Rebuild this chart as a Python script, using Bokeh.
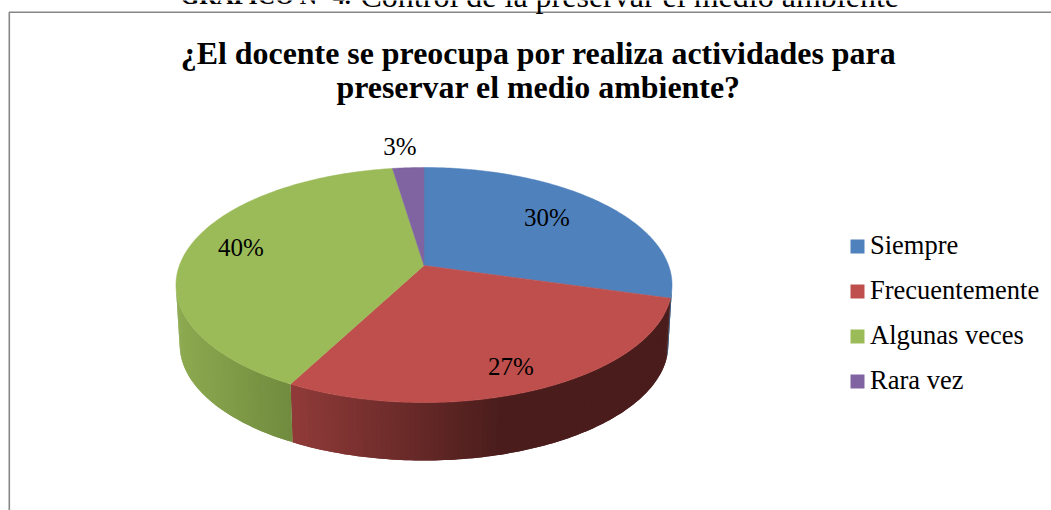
import numpy as np
from bokeh.plotting import figure
from bokeh.models import ColumnDataSource, Range1d
from bokeh.core.properties import value
from bokeh.embed import file_html
from bokeh.resources import INLINE

categories = ["Siempre", "Frecuentemente", "Algunas veces", "Rara vez"]
# slice shares (the printed labels are kept separately)
percent = [29.4, 28.3, 39.9, 2.4]
labels = ["30%", "27%", "40%", "3%"]
top_colors = ["#4F81BD", "#BE4F4C", "#9BBB59", "#8064A2"]
side_left = ["#2F4D71", "#8F3A38", "#8CA950", "#4C3C61"]
side_right = ["#2F4D71", "#4A1D1C", "#6F8A3D", "#4C3C61"]
title_lines = ["¿El docente se preocupa por realiza actividades para", "preservar el medio ambiente?"]

W, H = 1051, 510
XC, YC = 423.5, 265.0
G, HH, E = 244.6, 114.3, 0.166
DEPTH, SHRINK = 60.0, 0.985
FONT = value("Liberation Serif")


def rim(theta):
    u, v = np.sin(theta), np.cos(theta)
    w = 1 + E * v
    return XC + G * u / w, YC - HH * v / w


def lower(x, y):
    return XC + (x - XC) * SHRINK, YC + DEPTH + (y - YC) * SHRINK


p = figure(width=W, height=H, x_range=Range1d(0, W), y_range=Range1d(H, 0),
           output_backend="svg", toolbar_location=None, min_border=0,
           outline_line_color=None, background_fill_color="white", border_fill_color="white")
p.axis.visible = False
p.grid.visible = False
p.margin = (0, 0, 0, 0)

# chart frame
p.line([8.8, 8.8, W + 5], [H + 5, 11.7, 11.7], line_color="#868686", line_width=1.6)

# caption above the chart
p.text([180], [-5], text=["GRÁFICO N° 4."], text_font=FONT, text_font_style="bold",
       text_font_size="24px", text_baseline="alphabetic", text_color="#000000")
p.text([360], [-5], text=["Control de la preservar el medio ambiente"], text_font=FONT,
       text_font_size="32px", text_baseline="alphabetic", text_color="#000000")

# slice boundaries from the values
fr = np.cumsum([0] + percent) / sum(percent) * 2 * np.pi
vis0, vis1 = np.pi / 2 + np.arcsin(E), 3 * np.pi / 2 - np.arcsin(E)

# side wall, one overlapping strip per step, painted in order
xs, ys, cols = [], [], []
for i in range(len(percent)):
    a, b = max(fr[i], vis0), min(fr[i + 1], vis1)
    if b <= a:
        continue
    n = max(2, int((b - a) * 60))
    t = np.linspace(a, b, n + 1)
    x, y = rim(t)
    lx, ly = lower(x, y)
    c0 = np.array([int(side_left[i][k:k + 2], 16) for k in (1, 3, 5)], float)
    c1 = np.array([int(side_right[i][k:k + 2], 16) for k in (1, 3, 5)], float)
    x_lo, x_hi = (295.0, 500.0) if i == 1 else (180.0, 295.0) if i == 2 else (0.0, W)
    for k in range(n):
        j = min(k + 2, n)
        xs.append(np.r_[x[k:j + 1], lx[k:j + 1][::-1]].tolist())
        ys.append(np.r_[y[k:j + 1], ly[k:j + 1][::-1]].tolist())
        f = np.clip((0.5 * (x[k] + x[k + 1]) - x_lo) / (x_hi - x_lo), 0, 1)
        c = c0 + (c1 - c0) * f
        cols.append("#%02X%02X%02X" % tuple(int(round(q)) for q in c))
p.patches("xs", "ys", source=ColumnDataSource(dict(xs=xs, ys=ys, c=cols)),
          fill_color="c", line_color=None)

# top face
for i in range(len(percent)):
    t = np.linspace(fr[i], fr[i + 1], 120)
    x, y = rim(t)
    p.patch(np.r_[XC, x], np.r_[YC, y], fill_color=top_colors[i], line_color=top_colors[i], line_width=0.5)

# data labels
label_x = [546.5, 510.5, 240.5, 399.5]
label_y = [216.5, 365.5, 246.5, 145.5]
p.text(label_x, label_y, text=labels, text_font=FONT, text_font_size="25px",
       text_align="center", text_baseline="middle", text_color="#000000")

# title
p.text([538, 538], [52.5, 86.5], text=title_lines, text_font=FONT, text_font_style="bold",
       text_font_size="31.9px", text_align="center", text_baseline="middle", text_color="#000000")

# legend
leg_y = [246, 291, 336, 381]
p.rect([857] * 4, leg_y, width=14, height=14, fill_color=top_colors, line_color=None)
p.text([869.5] * 4, [v - 2 for v in leg_y], text=categories, text_font=FONT, text_font_size="26.5px",
       text_baseline="middle", text_color="#000000")

open("out.html", "w").write(file_html(p, INLINE))
